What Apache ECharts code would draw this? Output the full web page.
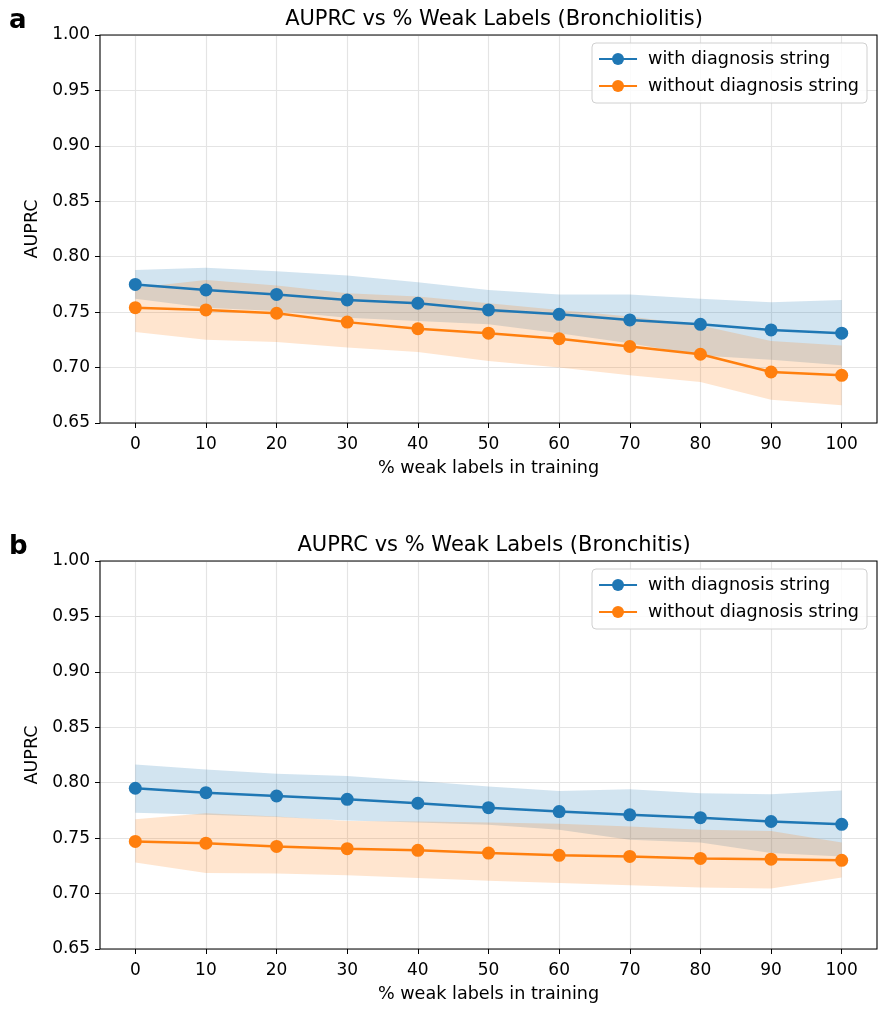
<!DOCTYPE html>
<html>
<head>
<meta charset="utf-8">
<script src="https://cdn.jsdelivr.net/npm/echarts@6/dist/echarts.min.js"></script>
<style>html,body{margin:0;padding:0;background:#fff;}#c{width:883px;height:1015px;}</style>
</head>
<body>
<div id="c"></div>
<script>
// ---- data ----
const xValues = [0, 10, 20, 30, 40, 50, 60, 70, 80, 90, 100];
const yTicks = [0.65, 0.70, 0.75, 0.80, 0.85, 0.90, 0.95, 1.00];
const seriesNames = ['with diagnosis string', 'without diagnosis string'];
const panelTitles = ['AUPRC vs % Weak Labels (Bronchiolitis)', 'AUPRC vs % Weak Labels (Bronchitis)'];
const panelLetters = ['a', 'b'];
const xAxisTitle = '% weak labels in training';
const yAxisTitle = 'AUPRC';

// Panel a (Bronchiolitis)
const aWithMean  = [0.775, 0.770, 0.766, 0.761, 0.758, 0.752, 0.748, 0.743, 0.739, 0.734, 0.731];
const aWithLow   = [0.762, 0.754, 0.751, 0.745, 0.742, 0.739, 0.731, 0.722, 0.711, 0.707, 0.702];
const aWithHigh  = [0.788, 0.790, 0.787, 0.783, 0.777, 0.770, 0.766, 0.766, 0.762, 0.759, 0.761];
const aWoMean    = [0.754, 0.752, 0.749, 0.741, 0.735, 0.731, 0.726, 0.719, 0.712, 0.696, 0.693];
const aWoLow     = [0.732, 0.725, 0.723, 0.718, 0.714, 0.706, 0.700, 0.693, 0.687, 0.671, 0.666];
const aWoHigh    = [0.772, 0.779, 0.774, 0.767, 0.764, 0.758, 0.752, 0.746, 0.738, 0.724, 0.720];

// Panel b (Bronchitis)
const bWithMean  = [0.795, 0.791, 0.788, 0.785, 0.7815, 0.7775, 0.774, 0.771, 0.7685, 0.765, 0.7625];
const bWithLow   = [0.773, 0.771, 0.769, 0.766, 0.764, 0.762, 0.7575, 0.7485, 0.746, 0.7365, 0.7335];
const bWithHigh  = [0.8165, 0.812, 0.808, 0.806, 0.8015, 0.7965, 0.7925, 0.794, 0.7905, 0.7895, 0.793];
const bWoMean    = [0.747, 0.7455, 0.7425, 0.7405, 0.739, 0.7365, 0.7345, 0.7335, 0.7317, 0.731, 0.730];
const bWoLow     = [0.728, 0.7185, 0.718, 0.7165, 0.714, 0.7115, 0.7095, 0.7075, 0.7055, 0.7045, 0.7145];
const bWoHigh    = [0.767, 0.7725, 0.7695, 0.7655, 0.765, 0.764, 0.763, 0.7605, 0.7575, 0.7565, 0.746];

// ---- build ----
const FONT = 'DejaVu Sans';
const BLUE = '#1f77b4', ORANGE = '#ff7f0e';
const panels = [
  {withMean: aWithMean, withLow: aWithLow, withHigh: aWithHigh, woMean: aWoMean, woLow: aWoLow, woHigh: aWoHigh},
  {withMean: bWithMean, withLow: bWithLow, withHigh: bWithHigh, woMean: bWoMean, woLow: bWoLow, woHigh: bWoHigh}
];
const PANEL_TOP = [35, 561];
const PLOT_H = 388;

const grid = [], xAxis = [], yAxis = [], series = [], title = [], legend = [];
const diff = (hi, lo) => hi.map((h, i) => +(h - lo[i]).toFixed(5));

panels.forEach((p, k) => {
  const top = PANEL_TOP[k];
  // frame grid (full box incl. margins): y-axis labels and horizontal grid lines
  grid.push({left: 100, width: 777, top: top, height: PLOT_H, show: true, borderColor: '#000', borderWidth: 1.1, backgroundColor: 'transparent', z: 3});
  // data grid (inset so that the first/last x value sit 35px inside the frame)
  grid.push({left: 135.3, width: 706.4, top: top, height: PLOT_H});
  const gf = 2 * k, gd = 2 * k + 1;
  xAxis.push({gridIndex: gf, type: 'value', min: 0, max: 1, show: false});
  yAxis.push({gridIndex: gf, type: 'value', min: yTicks[0], max: yTicks[yTicks.length - 1], interval: 0.05,
    axisLine: {show: false},
    axisTick: {show: true, length: 5, lineStyle: {color: '#000', width: 1}},
    axisLabel: {fontFamily: FONT, fontSize: 17, color: '#000', margin: 10, formatter: v => v.toFixed(2)},
    splitLine: {show: true, lineStyle: {color: '#e4e4e4', width: 1.2}},
    name: yAxisTitle, nameLocation: 'middle', nameGap: 57,
    nameTextStyle: {fontFamily: FONT, fontSize: 17.6, color: '#000'}
  });
  xAxis.push({gridIndex: gd, type: 'category', data: xValues.map(String), boundaryGap: false,
    axisLine: {show: false},
    axisTick: {show: true, length: 5, lineStyle: {color: '#000', width: 1}},
    axisLabel: {fontFamily: FONT, fontSize: 17, color: '#000', margin: 13, interval: 0},
    splitLine: {show: true, interval: 0, lineStyle: {color: '#e4e4e4', width: 1.2}},
    name: xAxisTitle, nameLocation: 'middle', nameGap: 36,
    nameTextStyle: {fontFamily: FONT, fontSize: 17.6, color: '#000'}
  });
  yAxis.push({gridIndex: gd, type: 'value', min: yTicks[0], max: yTicks[yTicks.length - 1], show: false, splitLine: {show: false}});

  const bands = [
    {lo: p.withLow, hi: p.withHigh, color: 'rgba(31,119,180,0.2)', id: 'w'},
    {lo: p.woLow, hi: p.woHigh, color: 'rgba(255,127,14,0.2)', id: 'o'}
  ];
  bands.forEach(b => {
    const st = 'band' + k + b.id;
    series.push({type: 'line', xAxisIndex: gd, yAxisIndex: gd, stack: st, data: b.lo, symbol: 'none',
      lineStyle: {opacity: 0}, silent: true, z: 1, name: st + 'lo'});
    series.push({type: 'line', xAxisIndex: gd, yAxisIndex: gd, stack: st, data: diff(b.hi, b.lo), symbol: 'none',
      lineStyle: {opacity: 0}, areaStyle: {color: b.color, opacity: 1}, silent: true, z: 1, name: st + 'hi'});
  });
  [[p.withMean, BLUE, seriesNames[0]], [p.woMean, ORANGE, seriesNames[1]]].forEach(([m, c, n]) => {
    series.push({type: 'line', name: n, xAxisIndex: gd, yAxisIndex: gd, data: m,
      symbol: 'circle', symbolSize: 13, showSymbol: true,
      lineStyle: {color: c, width: 2.5}, itemStyle: {color: c}, z: 5});
  });

  title.push({text: panelTitles[k], left: 489, textAlign: 'center', top: top - 31,
    textStyle: {fontFamily: FONT, fontSize: 21, fontWeight: 'normal', color: '#000'}});
  title.push({text: panelLetters[k], left: 4, top: top - 32,
    textStyle: {fontFamily: FONT, fontSize: 26, fontWeight: 'bold', color: '#000'}});
  legend.push({data: seriesNames, orient: 'vertical', right: 16, top: top + 8,
    itemWidth: 38, itemHeight: 15, itemGap: 9, padding: [7, 8, 8, 6],
    borderColor: '#d0d0d0', borderWidth: 1, borderRadius: 4, backgroundColor: 'rgba(255,255,255,0.85)',
    textStyle: {fontFamily: FONT, fontSize: 17.6, color: '#000', padding: [0, 0, 0, 6]}});
});

const chart = echarts.init(document.getElementById('c'), null, {renderer: 'canvas'});
chart.setOption({animation: false, backgroundColor: '#fff', title, legend, grid, xAxis, yAxis, series});
</script>
</body>
</html>
